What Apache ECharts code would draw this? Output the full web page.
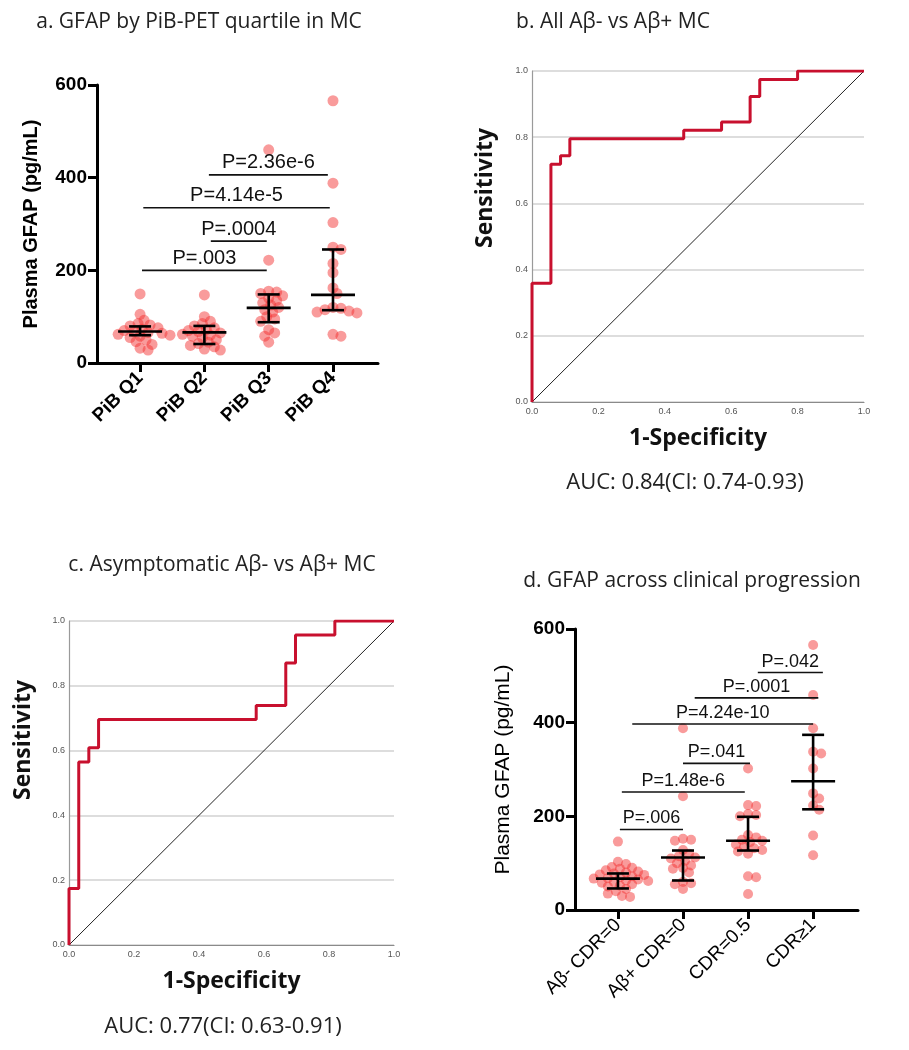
<!DOCTYPE html>
<html>
<head>
<meta charset="utf-8">
<script src="https://cdn.jsdelivr.net/npm/echarts@6/dist/echarts.min.js"></script>
<style>
html, body { margin: 0; padding: 0; background: #fff; }
#main { width: 909px; height: 1050px; }
</style>
</head>
<body>
<div id="main"></div>
<script>
// panel a: GFAP by PiB quartile
var pibCats = ['PiB Q1', 'PiB Q2', 'PiB Q3', 'PiB Q4'];
var pibQ1 = [149, 105, 92, 85, 82, 80, 76, 73, 70, 68, 66, 64, 62, 60, 58, 55, 50, 46, 40, 32, 28];
var pibQ2 = [147, 100, 90, 85, 80, 76, 72, 70, 68, 65, 62, 60, 58, 55, 50, 45, 42, 38, 35, 30, 28];
var pibQ3 = [460, 222, 155, 153, 150, 145, 140, 135, 130, 125, 120, 115, 110, 100, 95, 90, 72, 65, 58, 45];
var pibQ4 = [566, 388, 303, 250, 245, 215, 195, 162, 150, 120, 118, 115, 112, 110, 108, 62, 58];
var pibMedian = [68, 66, 119, 147];
var pibLow = [60, 41, 88, 114];
var pibHigh = [79, 80, 148, 245];
var pibPText = ['P=.003', 'P=.0004', 'P=4.14e-5', 'P=2.36e-6'];
var pibPFrom = [0.03, 1.10, 0.05, 1.07];
var pibPTo = [1.97, 1.97, 2.95, 2.92];
var pibPY = [200, 263, 335, 406];

// panel b: ROC all
var rocBFpr = [0, 0, 0.057, 0.086, 0.114, 0.457, 0.571, 0.657, 0.686, 0.8, 1];
var rocBTpr = [0, 0.359, 0.718, 0.744, 0.795, 0.821, 0.846, 0.923, 0.974, 1, 1];

// panel c: ROC asymptomatic
var rocCFpr = [0, 0, 0.030, 0.061, 0.091, 0.576, 0.667, 0.697, 0.818, 1];
var rocCTpr = [0, 0.174, 0.565, 0.609, 0.696, 0.739, 0.870, 0.957, 1, 1];

var diagX = [0, 1];
var diagY = [0, 1];

// panel d: GFAP across clinical progression
var cdrCats = ['Aβ- CDR=0', 'Aβ+ CDR=0', 'CDR=0.5', 'CDR≥1'];
var cdrAneg = [146, 103, 98, 92, 90, 88, 85, 82, 80, 78, 76, 75, 72, 70, 68, 67, 65, 63, 62, 60, 58, 55, 52, 50, 45, 40, 35, 30, 28];
var cdrApos = [388, 243, 152, 150, 148, 128, 120, 115, 112, 110, 105, 100, 95, 90, 88, 80, 60, 57, 55, 45];
var cdr05 = [302, 224, 222, 205, 203, 200, 160, 155, 150, 148, 145, 140, 135, 132, 128, 125, 120, 72, 70, 34];
var cdr1 = [566, 459, 388, 338, 334, 302, 249, 238, 223, 214, 159, 117];
var cdrMedian = [67, 112, 148, 275];
var cdrLow = [46, 63, 127, 215];
var cdrHigh = [78, 127, 199, 374];
var cdrPText = ['P=.006', 'P=1.48e-6', 'P=.041', 'P=4.24e-10', 'P=.0001', 'P=.042'];
var cdrPFrom = [0.03, 0.06, 1.00, 0.22, 1.18, 2.15];
var cdrPTo = [1.00, 1.95, 2.03, 3.00, 3.08, 3.15];
var cdrPY = [172, 252, 313, 397, 453, 507];

var SANS = '"Liberation Sans", Arial, sans-serif';
var TITLE = '"Open Sans", sans-serif';
var DOT = 'rgba(242, 45, 45, 0.6)';
var ROC_RED = '#c8102e';

// simple deterministic beeswarm: spread dots sideways so they don't pile up
function swarm(vals, idx, pxX, pxY, gap) {
    var placed = [];
    var sorted = vals.slice().sort(function (a, b) { return b - a; });
    return sorted.map(function (v) {
        var y = v * pxY;
        var dx = 0;
        for (var k = 0; k < 60; k++) {
            var step = Math.ceil(k / 2) * 2;
            dx = k % 2 === 1 ? step : -step;
            var ok = placed.every(function (p) {
                return (p[0] - dx) * (p[0] - dx) + (p[1] - y) * (p[1] - y) >= gap * gap;
            });
            if (ok) break;
        }
        placed.push([dx, y]);
        return [idx + dx / pxX, v];
    });
}

function zip(a, b) {
    return a.map(function (v, i) { return [v, b[i]]; });
}

function errBarData(med, lo, hi) {
    return med.map(function (m, i) { return [i, m, lo[i], hi[i]]; });
}

function pData(from, to, y) {
    return from.map(function (f, i) { return [f, to[i], y[i]]; });
}

function renderErrBar(params, api) {
    var x = api.value(0);
    var c = api.coord([x, api.value(1)]);
    var lo = api.coord([x, api.value(2)]);
    var hi = api.coord([x, api.value(3)]);
    var st = { stroke: '#000', lineWidth: 2.6 };
    return {
        type: 'group',
        children: [
            { type: 'line', shape: { x1: c[0] - 22, y1: c[1], x2: c[0] + 22, y2: c[1] }, style: st },
            { type: 'line', shape: { x1: c[0], y1: lo[1], x2: c[0], y2: hi[1] }, style: st },
            { type: 'line', shape: { x1: c[0] - 11, y1: lo[1], x2: c[0] + 11, y2: lo[1] }, style: st },
            { type: 'line', shape: { x1: c[0] - 11, y1: hi[1], x2: c[0] + 11, y2: hi[1] }, style: st }
        ]
    };
}

function pRenderer(labels, size) {
    return function (params, api) {
        var a = api.coord([api.value(0), api.value(2)]);
        var b = api.coord([api.value(1), api.value(2)]);
        return {
            type: 'group',
            children: [
                { type: 'line', shape: { x1: a[0], y1: a[1], x2: b[0], y2: b[1] }, style: { stroke: '#111', lineWidth: 1.6 } },
                {
                    type: 'text', x: (a[0] + b[0]) / 2, y: a[1] - 2,
                    style: {
                        text: labels[params.dataIndex], fill: '#111',
                        font: size + 'px ' + SANS,
                        align: 'center', verticalAlign: 'bottom',
                        textAlign: 'center', textVerticalAlign: 'bottom'
                    }
                }
            ]
        };
    };
}

function dotAxisX(grid, min, max, cats, bold) {
    return {
        gridIndex: grid, type: 'value', min: min, max: max,
        splitLine: { show: false },
        axisLine: { onZero: false, lineStyle: { color: '#000', width: 3 } },
        axisTick: { customValues: [0, 1, 2, 3], length: 9, lineStyle: { color: '#000', width: 3 } },
        axisLabel: {
            customValues: [0, 1, 2, 3], rotate: 45, margin: 12, color: '#000',
            fontSize: 19, fontFamily: SANS, fontWeight: bold ? 'bold' : 'normal',
            formatter: function (v) { return cats[Math.round(v)]; }
        }
    };
}

function dotAxisY(grid, nameGap, nameBold, nameSize) {
    return {
        gridIndex: grid, type: 'value', min: 0, max: 600, interval: 200,
        splitLine: { show: false },
        axisLine: { show: true, onZero: false, lineStyle: { color: '#000', width: 3 } },
        axisTick: { show: true, length: 9, lineStyle: { color: '#000', width: 3 } },
        axisLabel: { fontSize: 19, fontWeight: 'bold', color: '#000', fontFamily: SANS, margin: 10 },
        name: 'Plasma GFAP (pg/mL)', nameLocation: 'middle', nameGap: nameGap,
        nameTextStyle: { fontSize: nameSize, fontWeight: nameBold ? 'bold' : 'normal', color: '#000', fontFamily: SANS }
    };
}

function rocAxisX(grid) {
    return {
        gridIndex: grid, type: 'value', min: 0, max: 1, interval: 0.2,
        splitLine: { show: false },
        axisLine: { lineStyle: { color: '#8a8a8a', width: 1.2 } },
        axisTick: { show: false },
        axisLabel: { fontSize: 9, color: '#555', margin: 5, fontFamily: SANS, formatter: function (v) { return v.toFixed(1); } },
        name: '1-Specificity', nameLocation: 'middle', nameGap: 25,
        nameTextStyle: { fontSize: 23, fontWeight: 'bold', color: '#111', fontFamily: TITLE }
    };
}

function rocAxisY(grid) {
    return {
        gridIndex: grid, type: 'value', min: 0, max: 1, interval: 0.2,
        splitLine: { show: true, lineStyle: { color: '#d2d2d2', width: 1.5 } },
        axisLine: { show: true, lineStyle: { color: '#9a9a9a', width: 1.2 } },
        axisTick: { show: false },
        axisLabel: { fontSize: 9, color: '#555', margin: 4, fontFamily: SANS, formatter: function (v) { return v.toFixed(1); } }
    };
}

function dots(grid, vals, idx, pxY, size) {
    return {
        type: 'scatter', xAxisIndex: grid, yAxisIndex: grid,
        data: swarm(vals, idx, 64.5, pxY, 6.8),
        symbolSize: size,
        itemStyle: { color: DOT },
        z: 2
    };
}

function titleText(text, x, y, size) {
    return {
        type: 'text', x: x, y: y,
        style: {
            text: text, fill: '#222', font: size + 'px ' + TITLE,
            align: 'center', verticalAlign: 'middle',
            textAlign: 'center', textVerticalAlign: 'middle'
        }
    };
}

function sensText(x, y) {
    return {
        type: 'text', x: x, y: y, rotation: Math.PI / 2,
        style: {
            text: 'Sensitivity', fill: '#111', font: 'bold 23px ' + TITLE,
            align: 'center', verticalAlign: 'middle',
            textAlign: 'center', textVerticalAlign: 'middle'
        }
    };
}

var chart = echarts.init(document.getElementById('main'));

var option = {
    animation: false,
    backgroundColor: '#fff',
    grid: [
        { left: 97, top: 85, width: 281, height: 278 },
        { left: 532, top: 71, width: 332, height: 331 },
        { left: 69, top: 621, width: 325, height: 324 },
        { left: 575, top: 629, width: 283, height: 281 }
    ],
    xAxis: [
        dotAxisX(0, -0.67, 3.70, pibCats, true),
        rocAxisX(1),
        rocAxisX(2),
        dotAxisX(3, -0.66, 3.69, cdrCats, false)
    ],
    yAxis: [
        dotAxisY(0, 56, true, 20),
        rocAxisY(1),
        rocAxisY(2),
        dotAxisY(3, 61, false, 21)
    ],
    graphic: [
        titleText('a. GFAP by PiB-PET quartile in MC', 199, 22, 21),
        titleText('b. All Aβ- vs Aβ+ MC', 613, 22, 21),
        titleText('c. Asymptomatic Aβ- vs Aβ+ MC', 222, 565, 21),
        titleText('d. GFAP across clinical progression', 692, 581, 21),
        titleText('AUC: 0.84(CI: 0.74-0.93)', 685, 483, 22),
        titleText('AUC: 0.77(CI: 0.63-0.91)', 223, 1027, 22),
        sensText(485, 188),
        sensText(23, 740)
    ],
    series: [
        dots(0, pibQ1, 0, 0.4633, 11),
        dots(0, pibQ2, 1, 0.4633, 11),
        dots(0, pibQ3, 2, 0.4633, 11),
        dots(0, pibQ4, 3, 0.4633, 11),
        {
            type: 'custom', xAxisIndex: 0, yAxisIndex: 0, z: 5,
            data: errBarData(pibMedian, pibLow, pibHigh), renderItem: renderErrBar
        },
        {
            type: 'custom', xAxisIndex: 0, yAxisIndex: 0, z: 5,
            data: pData(pibPFrom, pibPTo, pibPY), renderItem: pRenderer(pibPText, 20)
        },
        {
            type: 'line', xAxisIndex: 1, yAxisIndex: 1, data: zip(diagX, diagY),
            showSymbol: false, lineStyle: { color: '#222', width: 1 }, z: 2
        },
        {
            type: 'line', xAxisIndex: 1, yAxisIndex: 1, data: zip(rocBFpr, rocBTpr), step: 'end',
            showSymbol: false, lineStyle: { color: ROC_RED, width: 3 }, z: 3
        },
        {
            type: 'line', xAxisIndex: 2, yAxisIndex: 2, data: zip(diagX, diagY),
            showSymbol: false, lineStyle: { color: '#222', width: 1 }, z: 2
        },
        {
            type: 'line', xAxisIndex: 2, yAxisIndex: 2, data: zip(rocCFpr, rocCTpr), step: 'end',
            showSymbol: false, lineStyle: { color: ROC_RED, width: 3 }, z: 3
        },
        dots(3, cdrAneg, 0, 0.468, 10),
        dots(3, cdrApos, 1, 0.468, 10),
        dots(3, cdr05, 2, 0.468, 10),
        dots(3, cdr1, 3, 0.468, 10),
        {
            type: 'custom', xAxisIndex: 3, yAxisIndex: 3, z: 5,
            data: errBarData(cdrMedian, cdrLow, cdrHigh), renderItem: renderErrBar
        },
        {
            type: 'custom', xAxisIndex: 3, yAxisIndex: 3, z: 5,
            data: pData(cdrPFrom, cdrPTo, cdrPY), renderItem: pRenderer(cdrPText, 18)
        }
    ]
};

chart.setOption(option);
</script>
</body>
</html>
